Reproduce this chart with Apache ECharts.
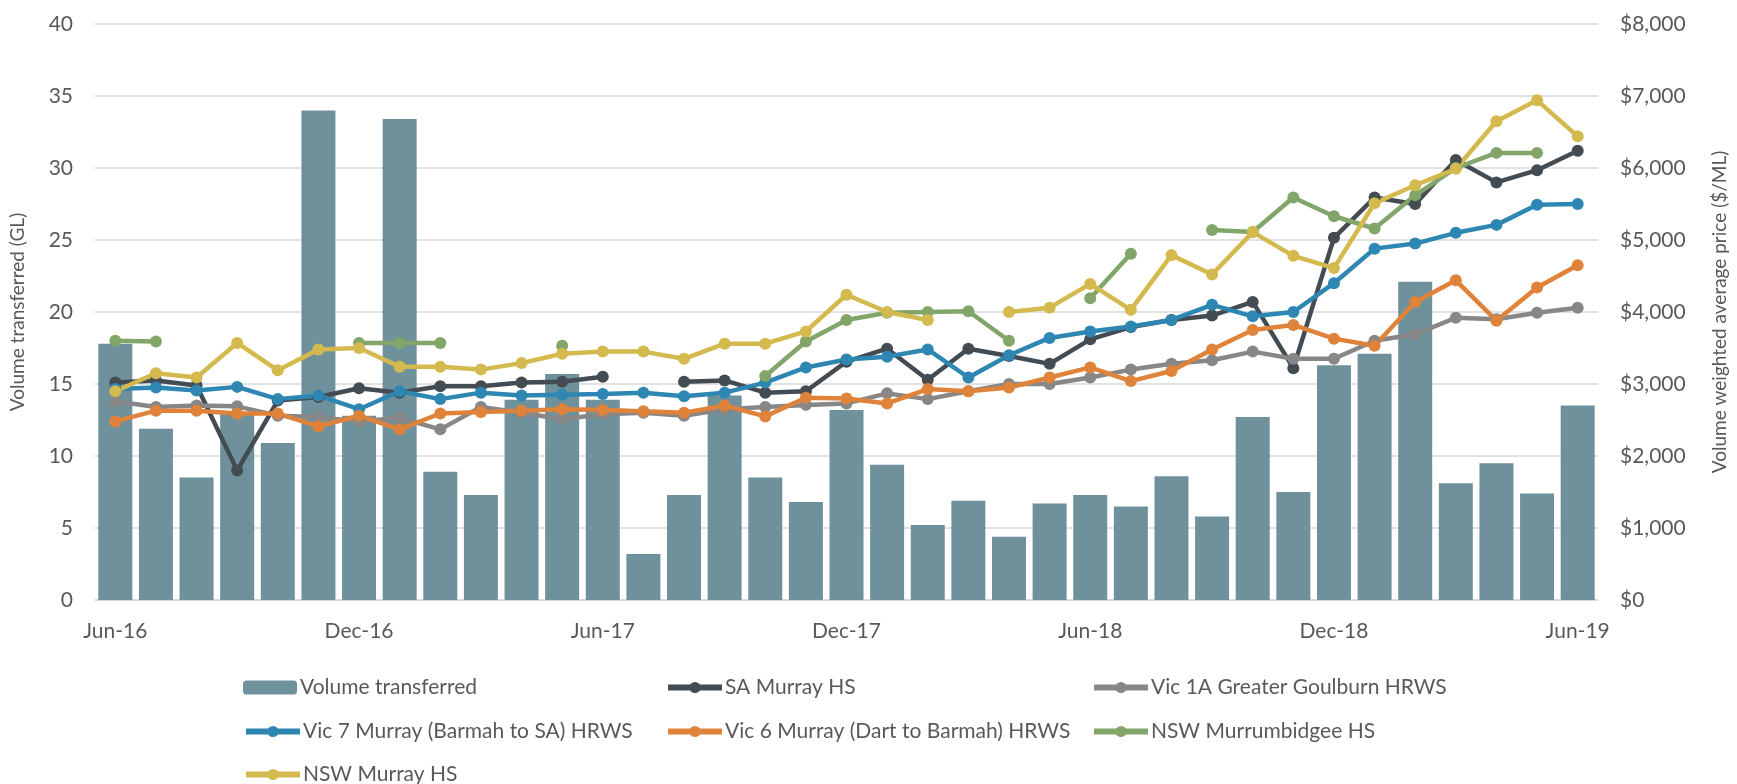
<!DOCTYPE html>
<html>
<head>
    <meta charset="utf-8">
    <style>
        html, body { margin: 0; padding: 0; background: #fff; }
    </style>
</head>
<body>

<div id="main" style="width: 1737px;height:784px;"></div>
<script src="https://cdn.jsdelivr.net/npm/echarts@6/dist/echarts.min.js"></script>
<script type="text/javascript">
    // months Jun-16 .. Jun-19
    var months = ['Jun-16', 'Jul-16', 'Aug-16', 'Sep-16', 'Oct-16', 'Nov-16', 'Dec-16', 'Jan-17', 'Feb-17', 'Mar-17',
        'Apr-17', 'May-17', 'Jun-17', 'Jul-17', 'Aug-17', 'Sep-17', 'Oct-17', 'Nov-17', 'Dec-17', 'Jan-18',
        'Feb-18', 'Mar-18', 'Apr-18', 'May-18', 'Jun-18', 'Jul-18', 'Aug-18', 'Sep-18', 'Oct-18', 'Nov-18',
        'Dec-18', 'Jan-19', 'Feb-19', 'Mar-19', 'Apr-19', 'May-19', 'Jun-19'];

    // GL
    var volume = [17.8, 11.9, 8.5, 13.0, 10.9, 34.0, 12.8, 33.4, 8.9, 7.3,
        13.9, 15.7, 13.9, 3.2, 7.3, 14.2, 8.5, 6.8, 13.2, 9.4,
        5.2, 6.9, 4.4, 6.7, 7.3, 6.5, 8.6, 5.8, 12.7, 7.5,
        16.3, 17.1, 22.1, 8.1, 9.5, 7.4, 13.5];

    // $/ML
    var saMurray = [3020, 3050, 2980, 1800, 2770, 2820, 2940, 2880, 2970, 2970,
        3020, 3030, 3100, null, 3030, 3050, 2880, 2900, 3310, 3490,
        3060, 3490, 3390, 3280, 3620, 3790, 3890, 3950, 4140, 3220,
        5030, 5590, 5500, 6110, 5800, 5970, 6240];
    var vic1A = [2760, 2680, 2700, 2690, 2560, 2540, 2480, 2530, 2370, 2680,
        2600, 2510, 2580, 2600, 2560, 2650, 2680, 2710, 2730, 2870,
        2790, 2900, 3000, 3000, 3090, 3200, 3280, 3330, 3450, 3350,
        3350, 3600, 3690, 3920, 3900, 3990, 4060];
    var vic7 = [2930, 2950, 2910, 2960, 2790, 2840, 2650, 2900, 2790, 2880,
        2840, 2850, 2860, 2880, 2830, 2880, 3020, 3230, 3340, 3380,
        3480, 3090, 3400, 3640, 3730, 3800, 3890, 4100, 3940, 4000,
        4400, 4880, 4950, 5100, 5210, 5490, 5500];
    var vic6 = [2480, 2630, 2630, 2590, 2590, 2410, 2560, 2370, 2590, 2610,
        2630, 2650, 2640, 2620, 2600, 2700, 2550, 2810, 2800, 2730,
        2930, 2900, 2950, 3090, 3230, 3040, 3180, 3480, 3750, 3820,
        3630, 3530, 4140, 4440, 3880, 4340, 4650];
    var nswMurrumbidgee = [3600, 3590, null, null, null, null, 3570, 3570, 3570, null,
        null, 3530, null, null, null, null, 3110, 3590, 3890, 3990,
        4000, 4010, 3600, null, 4190, 4810, null, 5140, 5110, 5590,
        5330, 5160, 5620, 6000, 6210, 6210, null];
    var nswMurray = [2900, 3150, 3090, 3570, 3190, 3480, 3500, 3240, 3240, 3200,
        3290, 3420, 3450, 3450, 3350, 3560, 3560, 3730, 4240, 4000,
        3890, null, 4000, 4060, 4390, 4030, 4790, 4520, 5110, 4780,
        4610, 5510, 5760, 5990, 6650, 6940, 6440];

    var FONT = 'Lato';
    var TXT = '#595959';

    function lineSeries(name, color, data) {
        return {
            name: name,
            type: 'line',
            yAxisIndex: 1,
            data: data,
            symbol: 'circle',
            symbolSize: 12,
            connectNulls: false,
            itemStyle: { color: color },
            lineStyle: { color: color, width: 4.5 },
            emphasis: { disabled: true }
        };
    }

    function legendAt(name, left, top) {
        return {
            data: [name],
            left: left,
            top: top,
            itemWidth: 54,
            itemHeight: 14,
            itemGap: 0,
            selectedMode: false,
            lineStyle: { width: 6 },
            textStyle: { fontFamily: FONT, fontSize: 21, color: TXT, padding: [0, 0, 0, -2] }
        };
    }

    var option = {
        animation: false,
        textStyle: { fontFamily: FONT },
        legend: [
            legendAt('Volume transferred', 238, 672),
            legendAt('SA Murray HS', 660, 672),
            legendAt('Vic 1A Greater Goulburn HRWS', 1086, 672),
            legendAt('Vic 7 Murray (Barmah to SA) HRWS', 238, 716),
            legendAt('Vic 6 Murray (Dart to Barmah) HRWS', 660, 716),
            legendAt('NSW Murrumbidgee HS', 1086, 716),
            legendAt('NSW Murray HS', 238, 759)
        ],
        grid: {
            left: 94,
            right: 126,
            top: 24,
            bottom: 184
        },
        xAxis: {
            type: 'category',
            data: months,
            boundaryGap: true,
            axisLine: { lineStyle: { color: '#d9d9d9', width: 1.5 } },
            axisTick: { interval: 5, length: 6, lineStyle: { color: '#d9d9d9', width: 1.5 } },
            axisLabel: { interval: 5, margin: 21, fontSize: 21, color: TXT, fontFamily: FONT }
        },
        yAxis: [
            {
                type: 'value',
                min: 0,
                max: 40,
                interval: 5,
                name: 'Volume transferred (GL)',
                nameLocation: 'middle',
                nameGap: 68,
                nameTextStyle: { fontSize: 19, color: TXT, fontFamily: FONT },
                axisLine: { show: false },
                axisTick: { show: false },
                axisLabel: { margin: 22, fontSize: 21, color: TXT, fontFamily: FONT },
                splitLine: { lineStyle: { color: '#d9d9d9', width: 1.5 } }
            },
            {
                type: 'value',
                min: 0,
                max: 8000,
                interval: 1000,
                name: 'Volume weighted average price ($/ML)',
                nameLocation: 'middle',
                nameGap: 112,
                nameRotate: 90,
                nameTextStyle: { fontSize: 19, color: TXT, fontFamily: FONT },
                axisLine: { show: false },
                axisTick: { show: false },
                splitLine: { show: false },
                axisLabel: {
                    margin: 22,
                    fontSize: 21,
                    color: TXT,
                    fontFamily: FONT,
                    formatter: function (v) {
                        return '$' + v.toLocaleString('en-US');
                    }
                }
            }
        ],
        series: [
            {
                name: 'Volume transferred',
                type: 'bar',
                data: volume,
                barWidth: 34,
                itemStyle: { color: '#6f919b' },
                emphasis: { disabled: true }
            },
            lineSeries('SA Murray HS', '#434c53', saMurray),
            lineSeries('Vic 1A Greater Goulburn HRWS', '#878787', vic1A),
            lineSeries('Vic 7 Murray (Barmah to SA) HRWS', '#2e87b3', vic7),
            lineSeries('Vic 6 Murray (Dart to Barmah) HRWS', '#e0833a', vic6),
            lineSeries('NSW Murrumbidgee HS', '#82a569', nswMurrumbidgee),
            lineSeries('NSW Murray HS', '#d4b94e', nswMurray)
        ]
    };

    var myChart = echarts.init(document.getElementById('main'));
    myChart.setOption(option);
</script>
</body>
</html>
